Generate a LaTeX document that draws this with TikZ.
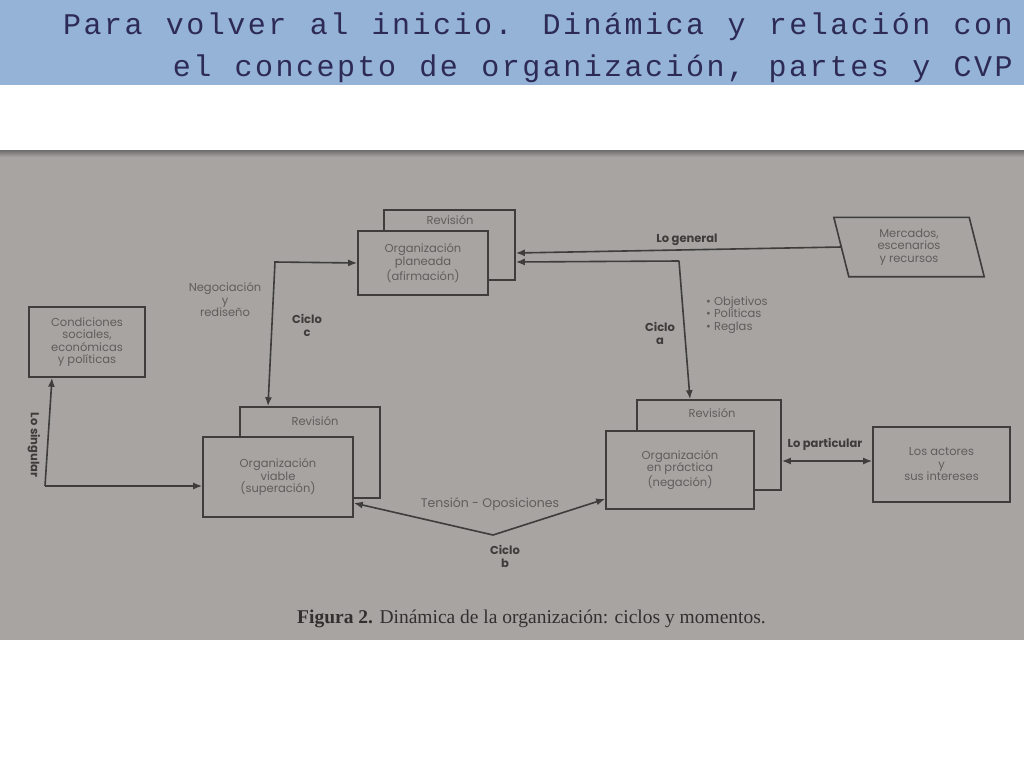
\documentclass[tikz,border=0pt]{standalone}
\usepackage{fontspec}
\setmainfont{Liberation Serif}
\newfontfamily\titlefont[LetterSpace=8.3,WordSpace=1.14]{Liberation Mono}
\newfontfamily\diagfont{Poppins}
\usetikzlibrary{arrows.meta}
\definecolor{titlebg}{RGB}{149,179,215}
\definecolor{titlefg}{RGB}{45,43,85}
\definecolor{photo}{RGB}{167,164,161}
\definecolor{photodark}{RGB}{110,108,106}
\definecolor{ink}{RGB}{62,61,60}
\definecolor{txt}{RGB}{96,94,92}
\definecolor{btxt}{RGB}{62,60,58}
\definecolor{captxt}{RGB}{50,48,47}
\tikzset{
  box/.style={draw=ink, line width=1.6pt, fill=photo, inner sep=0pt},
  lbl/.style={font=\diagfont\fontsize{11.5}{12.5}\selectfont, text=txt, align=center, inner sep=0pt},
  blbl/.style={font=\diagfont\bfseries\fontsize{11.5}{13}\selectfont, text=btxt, align=center, inner sep=0pt},
  arr/.style={draw=ink, line width=1.6pt, -{Latex[length=9pt,width=7pt]}},
  arrb/.style={draw=ink, line width=1.6pt, {Latex[length=9pt,width=7pt]}-{Latex[length=9pt,width=7pt]}},
  ttl/.style={font=\titlefont\fontsize{30}{42}\selectfont, text=titlefg, inner sep=0pt, anchor=base east}
}
\begin{document}
\begin{tikzpicture}[x=1pt,y=-1pt]
\useasboundingbox (0,0) rectangle (1024,768);
\fill[white] (0,0) rectangle (1024,768);
% title bar
\fill[titlebg] (0,0) rectangle (1024,85);
\node[ttl] (title1) at (1013,35) {Para volver al inicio. Dinámica y relación con};
\node[ttl] (title2) at (1013,77) {el concepto de organización, partes y CVP};
% photo background
\fill[photo] (0,150) rectangle (1024,640);
\shade[top color=photodark, bottom color=photo] (0,150) rectangle (1024,157);

% boxes
\node[box, minimum width=131pt, minimum height=70pt] (planR) at (449.5,245) {};
\node[lbl] (planRt) at (450,220) {Revisión};
\node[box, minimum width=130pt, minimum height=64pt, lbl] (planF) at (423,263) {Organización\\planeada\\(afirmación)};

\node[lbl, minimum width=135pt, minimum height=59pt] (merc) at (909,247) {Mercados,\\escenarios\\y recursos};
\draw[ink, line width=1.6pt] ([xshift=-7.5pt]merc.north west) -- ([xshift=-7.5pt]merc.north east)
  -- ([xshift=7.5pt]merc.south east) -- ([xshift=7.5pt]merc.south west) -- cycle;

\node[box, minimum width=116pt, minimum height=70pt, lbl] (cond) at (87,342) {Condiciones\\sociales,\\económicas\\y políticas};

\node[box, minimum width=140pt, minimum height=91pt] (viaR) at (310,452.5) {};
\node[lbl] (viaRt) at (315,421) {Revisión};
\node[box, minimum width=150pt, minimum height=80pt, lbl] (viaF) at (278,477) {Organización\\viable\\(superación)};

\node[box, minimum width=144pt, minimum height=90pt] (praR) at (709,445) {};
\node[lbl] (praRt) at (712,413) {Revisión};
\node[box, minimum width=148pt, minimum height=78pt, lbl] (praF) at (680,470) {Organización\\en práctica\\(negación)};

\node[box, minimum width=137pt, minimum height=75pt, lbl] (act) at (941.5,464.5) {Los actores\\y\\sus intereses};

% connectors
\draw[arr] (merc.west) -- ([yshift=-8pt]planR.east);
\coordinate (ca) at (679,261);
\draw[arr] (ca) -- ([yshift=-17pt]planR.east);
\draw[arr] (ca) -- ([xshift=-19pt]praR.north);

\coordinate (cc) at (275,262);
\draw[arrb] ([xshift=-42pt]viaR.north) -- (cc) -- (planF.west);

\coordinate (ls) at (45,486);
\draw[arr] (ls) -- ([xshift=-35pt]cond.south);
\draw[arr] (ls) -- ([yshift=-9pt]viaF.west);

\coordinate (tb) at (493,535);
\draw[arr] (tb) -- ([yshift=-26pt]viaF.east);
\draw[arr] (tb) -- ([yshift=-29pt]praF.west);

\draw[arrb] ([yshift=-16pt]praR.east) -- ([yshift=3.5pt]act.west);

% labels
\node[blbl] (lgen) at (687,240) {Lo general};
\node[lbl] (neg) at (225,300) {Negociación\\y\\rediseño};
\node[blbl] (cicc) at (307,325) {Ciclo\\c};
\node[blbl] (cica) at (660,333) {Ciclo\\a};
\node[lbl, align=left, anchor=west] (bul) at (706,315) {• Objetivos\\• Políticas\\• Reglas};
\node[blbl] (lpar) at (825,444) {Lo particular};
\node[lbl, font=\diagfont\fontsize{12.5}{13}\selectfont] (tens) at (490,504) {Tensión - Oposiciones};
\node[blbl] (cicb) at (505,556) {Ciclo\\b};
\node[blbl, rotate=-90] (lsing) at (34,445) {Lo singular};

% caption
\node[font=\fontsize{19.5}{22}\selectfont, text=captxt, inner sep=0pt, anchor=base west] (cap) at (297,623) {\textbf{Figura 2.} Dinámica de la organización: ciclos y momentos.};
\end{tikzpicture}
\end{document}
